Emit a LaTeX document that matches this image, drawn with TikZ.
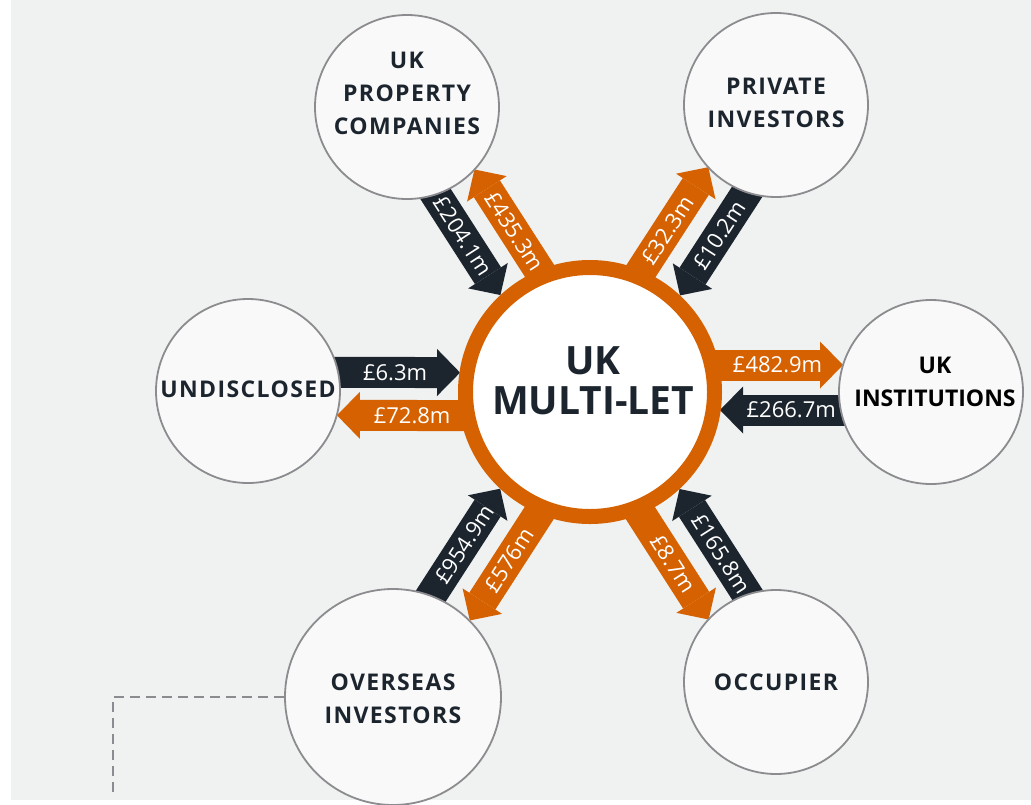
\documentclass[tikz,border=0pt]{standalone}
\usepackage{fontspec}
\setmainfont{Open Sans}
\newfontfamily\capsfont[LetterSpace=6]{Open Sans}
\usetikzlibrary{arrows.meta,calc,backgrounds}

\definecolor{mlorange}{HTML}{D66100}
\definecolor{mldark}{HTML}{1C252E}
\definecolor{mlpaper}{HTML}{F0F1F1}
\definecolor{mlfill}{HTML}{F9F9F9}
\definecolor{mlrim}{HTML}{8C8C90}

% paper sits under the flows, the flows under the circles
\pgfdeclarelayer{paper}
\pgfsetlayers{paper,background,main}

\begin{document}
\begin{tikzpicture}[
  x=1pt, y=1pt,
  party/.style={
    circle, draw=mlrim, line width=1.8pt, fill=mlfill,
    minimum size=184pt, inner sep=0pt,
  },
  partytext/.style={
    align=center, text=mldark,
    font=\capsfont\bfseries\fontsize{23}{33}\selectfont,
  },
  hubnode/.style={
    circle, draw=mlorange, line width=15pt, fill=white,
    minimum size=249pt, inner sep=0pt,
  },
  hubtext/.style={
    align=center, text=mldark,
    font=\bfseries\fontsize{39}{40}\selectfont,
  },
  flow/.style={line width=31pt,
    -{Triangle[length=23pt,width=47pt,line width=0pt]}},
  inflow/.style={flow, draw=mldark, shorten >=130pt},
  outflow/.style={flow, draw=mlorange, shorten >=89pt},
  amount/.style={sloped, text=white, inner sep=0pt,
    font=\fontsize{22}{24}\selectfont},
  leader/.style={draw=mlrim, line width=2pt, dash pattern=on 10pt off 6pt},
]

\useasboundingbox (0,0) rectangle (1031,-804);
\begin{pgfonlayer}{paper}
  \fill[mlpaper] (11,0) rectangle (1031,-800);
\end{pgfonlayer}

%---------- hub and counterparties ----------
\node[hubnode, label={[hubtext, yshift=11pt, xshift=3pt]center:UK\\MULTI-LET}] (hub) at (590,-392) {};

\node[party, label={[partytext, yshift=14pt]center:UK\\PROPERTY\\COMPANIES}] (ukprop) at (407,-107) {};
\node[party, label={[partytext, yshift=2pt]center:PRIVATE\\INVESTORS}] (private) at (776,-105) {};
\node[party, label={[partytext, yshift=2pt]center:UNDISCLOSED}] (undisc) at (248,-391) {};
\node[party, label={[partytext, text=black, yshift=10pt, xshift=4pt,
    font=\bfseries\fontsize{23}{33}\selectfont]center:UK\\INSTITUTIONS}] (inst) at (931,-392) {};
\node[party, minimum size=216pt,
    label={[partytext, yshift=-2pt]center:OVERSEAS\\INVESTORS}] (overseas) at (393,-697) {};
\node[party, label={[partytext]center:OCCUPIER}] (occupier) at (776,-682) {};

%---------- flows (dark = into the hub, orange = out of it) ----------
\begin{scope}[on background layer]
  % undisclosed
  \draw[inflow] ($(undisc)!19pt!90:(hub)$) -- ($(hub)!19pt!-90:(undisc)$)
    node[amount, pos=0.43] {£6.3m};
  \draw[outflow] ($(hub)!24pt!90:(undisc)$) -- ($(undisc)!24pt!-90:(hub)$)
    node[amount, pos=0.52] {£72.8m};
  % uk institutions
  \draw[outflow, shorten >=88pt] ($(hub)!27pt!90:(inst)$) -- ($(inst)!27pt!-90:(hub)$)
    node[amount, pos=0.55] {£482.9m};
  \draw[inflow] ($(inst)!18pt!90:(hub)$) -- ($(hub)!18pt!-90:(inst)$)
    node[amount, pos=0.41] {£266.7m};
  % uk property companies
  \draw[inflow] ($(ukprop)!23pt!-90:(hub)$) -- ($(hub)!23pt!90:(ukprop)$)
    node[amount, pos=0.41] {£204.1m};
  \draw[outflow] ($(hub)!23pt!-90:(ukprop)$) -- ($(ukprop)!23pt!90:(hub)$)
    node[amount, pos=0.52] {£435.3m};
  % private investors
  \draw[outflow] ($(hub)!23pt!90:(private)$) -- ($(private)!23pt!-90:(hub)$)
    node[amount, pos=0.52] {£32.3m};
  \draw[inflow] ($(private)!23pt!90:(hub)$) -- ($(hub)!23pt!-90:(private)$)
    node[amount, pos=0.41] {£10.2m};
  % overseas investors
  \draw[inflow] ($(overseas)!23pt!90:(hub)$) -- ($(hub)!23pt!-90:(overseas)$)
    node[amount, pos=0.46] {£954.9m};
  \draw[outflow, shorten >=106pt] ($(hub)!23pt!90:(overseas)$) -- ($(overseas)!23pt!-90:(hub)$)
    node[amount, pos=0.51] {£576m};
  % occupier
  \draw[outflow] ($(hub)!23pt!-90:(occupier)$) -- ($(occupier)!23pt!90:(hub)$)
    node[amount, pos=0.55] {£8.7m};
  \draw[inflow] ($(occupier)!23pt!-90:(hub)$) -- ($(hub)!23pt!90:(occupier)$)
    node[amount, pos=0.40] {£165.8m};
\end{scope}

%---------- leader line ----------
\coordinate (legend) at (113,-797);
\draw[leader] (overseas.west) -| (legend);

\end{tikzpicture}
\end{document}
